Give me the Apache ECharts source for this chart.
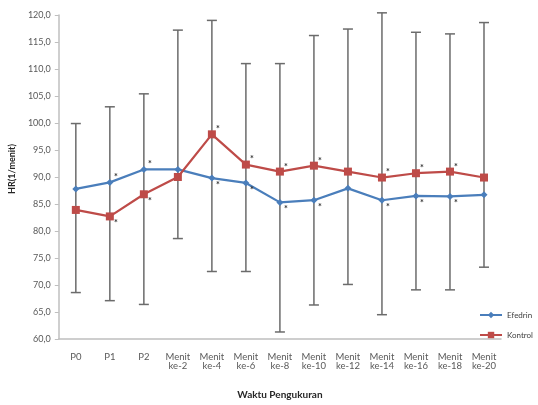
<!DOCTYPE html>
<html>
<head>
<meta charset="utf-8">
<script src="https://cdn.jsdelivr.net/npm/echarts@6/dist/echarts.min.js"></script>
<style>html,body{margin:0;padding:0;background:#fff}#c{width:538px;height:405px}</style>
</head>
<body>
<div id="c"></div>
<script>
var categories = ['P0','P1','P2','Menit\nke-2','Menit\nke-4','Menit\nke-6','Menit\nke-8','Menit\nke-10','Menit\nke-12','Menit\nke-14','Menit\nke-16','Menit\nke-18','Menit\nke-20'];
var efedrin = [87.8, 89.0, 91.4, 91.4, 89.8, 88.9, 85.3, 85.7, 87.9, 85.7, 86.5, 86.4, 86.7];
var kontrol = [83.9, 82.7, 86.8, 90.0, 97.9, 92.3, 91.0, 92.1, 91.0, 89.9, 90.7, 91.0, 89.9];
var errTop = [99.9, 103.0, 105.4, 117.2, 119.0, 111.0, 111.0, 116.2, 117.4, 120.4, 116.8, 116.5, 118.6];
var errBottom = [68.6, 67.1, 66.4, 78.6, 72.5, 72.5, 61.3, 66.3, 70.1, 64.5, 69.1, 69.1, 73.3];
// significance marks ('*') per point: 1 = marked
var efedrinSig = [0, 1, 1, 0, 1, 1, 1, 1, 0, 1, 1, 1, 0];
var kontrolSig = [0, 1, 1, 0, 1, 1, 1, 1, 0, 1, 1, 1, 0];
var yTicks = {min: 60, max: 120, step: 5};

var errData = categories.map(function(c, i){ return [i, errBottom[i], errTop[i]]; });
var font = 'Lato, "Liberation Sans", sans-serif';

function starItems(vals, sig, other){
  return vals.map(function(v, i){
    var above = v >= other[i];
    return {
      value: v,
      label: {
        show: !!sig[i], formatter: '*', fontSize: 9, fontWeight: 'bold', color: '#333',
        position: 'inside',
        offset: above ? [6, -5] : [6, 7]
      }
    };
  });
}

var chart = echarts.init(document.getElementById('c'));
chart.setOption({
  animation: false,
  textStyle: {fontFamily: font},
  grid: {left: 56, right: 37, top: 15, bottom: 60, containLabel: false},
  legend: {
    orient: 'vertical', right: 0, top: 306, itemGap: 12, itemWidth: 22, itemHeight: 8,
    textStyle: {fontSize: 8, color: '#404040', fontFamily: font},
    data: ['Efedrin', 'Kontrol']
  },
  xAxis: {
    type: 'category', data: categories, boundaryGap: true,
    axisLine: {lineStyle: {color: '#bfbfbf', width: 1.5}},
    axisTick: {show: false},
    axisLabel: {interval: 0, fontSize: 9.5, lineHeight: 9, color: '#595959', margin: 13},
    name: 'Waktu Pengukuran', nameLocation: 'middle', nameGap: 51,
    nameTextStyle: {fontSize: 10, fontWeight: 'bold', color: '#262626'}
  },
  yAxis: {
    type: 'value', min: yTicks.min, max: yTicks.max, interval: yTicks.step,
    splitLine: {show: false},
    axisLine: {show: true, lineStyle: {color: '#bfbfbf', width: 1.5}},
    axisTick: {show: true, length: 4, lineStyle: {color: '#bfbfbf'}},
    axisLabel: {fontSize: 9, color: '#595959', margin: 8,
      formatter: function(v){ return v.toFixed(1).replace('.', ','); }},
    name: 'HR(1/menit)', nameLocation: 'middle', nameRotate: 90, nameGap: 41,
    nameTextStyle: {fontSize: 9, fontWeight: 'bold', color: '#262626', padding: [0, 0, 0, 16]}
  },
  series: [
    {
      type: 'custom', name: 'err', z: 1,
      data: errData,
      renderItem: function(params, api){
        var x = api.value(0);
        var lo = api.coord([x, api.value(1)]);
        var hi = api.coord([x, api.value(2)]);
        var w = 5;
        var st = {stroke: '#6b6b6b', lineWidth: 1.5};
        return {type: 'group', children: [
          {type: 'line', shape: {x1: lo[0], y1: lo[1], x2: hi[0], y2: hi[1]}, style: st},
          {type: 'line', shape: {x1: lo[0]-w, y1: lo[1], x2: lo[0]+w, y2: lo[1]}, style: st},
          {type: 'line', shape: {x1: hi[0]-w, y1: hi[1], x2: hi[0]+w, y2: hi[1]}, style: st}
        ]};
      }
    },
    {
      type: 'line', name: 'Efedrin', data: starItems(efedrin, efedrinSig, kontrol), z: 3,
      symbol: 'diamond', symbolSize: 7,
      lineStyle: {color: '#4a7ebb', width: 2.2},
      itemStyle: {color: '#4a7ebb'}
    },
    {
      type: 'line', name: 'Kontrol', data: starItems(kontrol, kontrolSig, efedrin), z: 3,
      symbol: 'rect', symbolSize: 8,
      lineStyle: {color: '#be4b48', width: 2.2},
      itemStyle: {color: '#be4b48'}
    }
  ]
});
</script>
</body>
</html>
